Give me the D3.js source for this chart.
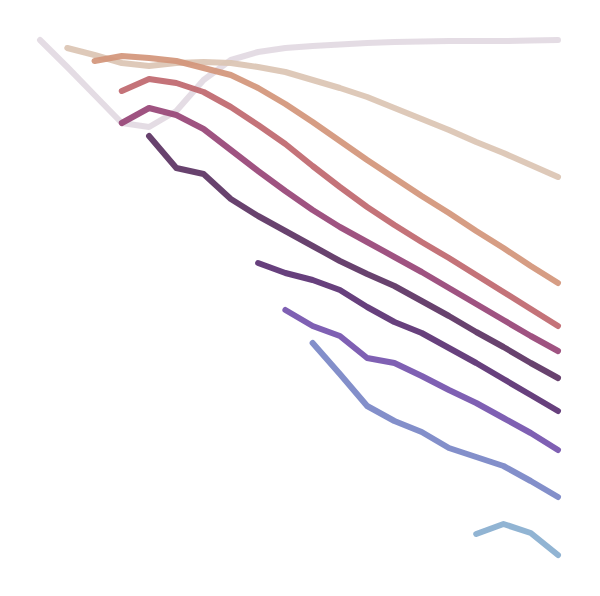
<!DOCTYPE html>
<html>
<head>
<meta charset="utf-8">
<script src="https://cdn.jsdelivr.net/npm/d3@7"></script>
<style>
  html, body { margin: 0; padding: 0; background: #fff; }
  svg { display: block; }
</style>
</head>
<body>
<script>
// 20 time steps (x index 0..19)
const steps = d3.range(20);

// Each series: first index where it begins, then values (pixel-scale units, lower = higher on chart)
const s1Start = 0;  const s1 = [40, 67, 95, 123, 127, 111, 80, 60, 52, 48, 46, 44.5, 43, 42, 41.5, 41, 41, 41, 40.5, 40];
const s2Start = 1;  const s2 = [48, 55, 63, 66, 63, 62, 63, 67, 72, 80, 88, 97, 108, 119, 130, 142, 153, 165, 177];
const s3Start = 2;  const s3 = [61, 56, 58, 61, 68, 75, 88, 104, 122, 141, 160, 178, 196, 213, 231, 248, 266, 283];
const s4Start = 3;  const s4 = [91, 79, 83, 92, 107, 125, 144, 166, 187, 207, 225, 242, 258, 275, 292, 309, 326];
const s5Start = 3;  const s5 = [123, 108, 115, 129, 150, 171, 191, 210, 227, 242, 257, 272, 288, 304, 320, 336, 351];
const s6Start = 4;  const s6 = [136, 168, 174, 199, 216, 231, 246, 261, 274, 286, 301, 316, 332, 347, 363, 378];
const s7Start = 8;  const s7 = [263, 273, 280, 290, 307, 322, 333, 348, 363, 379, 395, 411];
const s8Start = 9;  const s8 = [310, 326, 336, 358, 363, 376, 390, 403, 418, 433, 450];
const s9Start = 10; const s9 = [343, 374, 406, 421, 432, 448, 457, 466, 481, 497];
const s10Start = 16; const s10 = [534, 524, 533, 555];

const seriesStarts = [s1Start, s2Start, s3Start, s4Start, s5Start, s6Start, s7Start, s8Start, s9Start, s10Start];
const seriesValues = [s1, s2, s3, s4, s5, s6, s7, s8, s9, s10];

const palette = ["#e2d9e2", "#dbc4b3", "#d3957a", "#bf676e", "#974476",
                 "#5b3262", "#5a3072", "#7453ad", "#7885c6", "#88aecf"];

const W = 600, H = 596;
const svg = d3.select("body").append("svg").attr("width", W).attr("height", H);

const x = d3.scaleLinear().domain([0, 19]).range([40, 558]);
const y = d3.scaleLinear().domain([0, 596]).range([0, 596]);

const line = d3.line()
  .x(d => x(d.i))
  .y(d => y(d.v))
  .curve(d3.curveLinear);

seriesValues.forEach((vals, k) => {
  const pts = vals.map((v, j) => ({ i: steps[seriesStarts[k] + j], v }));
  svg.append("path")
    .datum(pts)
    .attr("d", line)
    .attr("fill", "none")
    .attr("stroke", palette[k])
    .attr("stroke-width", 6)
    .attr("stroke-opacity", 0.92)
    .attr("stroke-linecap", "round")
    .attr("stroke-linejoin", "round");
});
</script>
</body>
</html>
